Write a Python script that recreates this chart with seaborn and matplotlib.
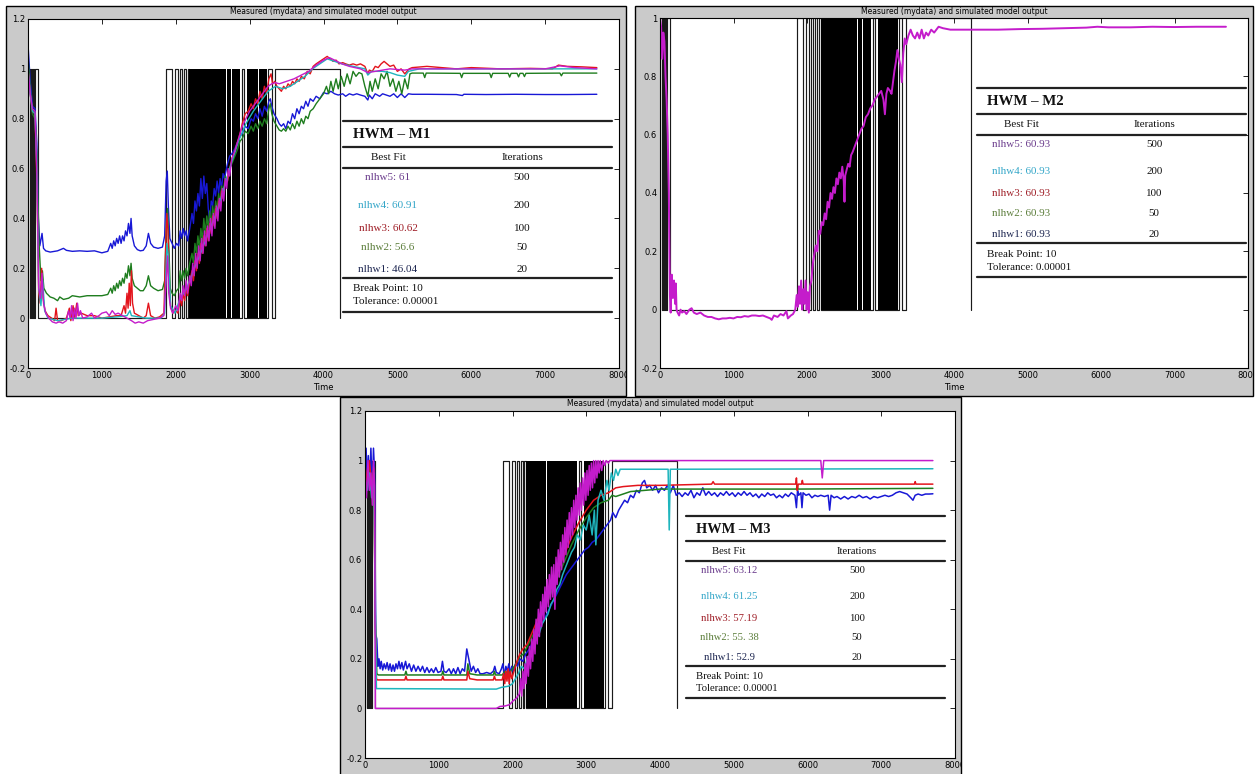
import numpy as np
import pandas as pd
import matplotlib
matplotlib.use("Agg")
import matplotlib.pyplot as plt
import seaborn as sns
from matplotlib.lines import Line2D
from matplotlib.patches import Rectangle
from matplotlib.transforms import Bbox, TransformedBbox

# ---------------------------------------------------------------- data
# measured output: switches between 0 and 1 (intervals where it is 1)
meas_on_start = [0, 40, 70, 100, 1868, 1990, 2057, 2111, 2160, 2900, 3253, 3344]
meas_on_end = [22, 55, 85, 138, 1950, 2030, 2084, 2140, 2185, 2925, 3299, 4230]
# stretches where the measured signal toggles faster than the plot resolves
meas_band_start = [2185, 2238, 2374, 2464, 2577, 2689, 2757, 2821, 2964, 3051, 3121, 3171, 3211]
meas_band_end = [2234, 2370, 2460, 2573, 2685, 2753, 2817, 2870, 3047, 3117, 3167, 3207, 3235]

x_ticks = [0, 1000, 2000, 3000, 4000, 5000, 6000, 7000, 8000]
y_ticks_a = [-0.2, 0, 0.2, 0.4, 0.6, 0.8, 1, 1.2]
y_ticks_b = [-0.2, 0, 0.2, 0.4, 0.6, 0.8, 1]

model_names = ["nlhw5", "nlhw4", "nlhw3", "nlhw2", "nlhw1"]
iterations = [500, 200, 100, 50, 20]
m1_fit = ["61", "60.91", "60.62", "56.6", "46.04"]
m2_fit = ["60.93", "60.93", "60.93", "60.93", "60.93"]
m3_fit = ["63.12", "61.25", "57.19", "55. 38", "52.9"]
break_point = 10
tolerance = "0.00001"

# HWM - M1 simulated outputs (time, value)
m1_nlhw1 = [(0,1.10),(30,0.95),(60,0.85),(95,0.84),(120,0.70),(140,0.40),(160,0.29),(190,0.34),(210,0.28),
    (240,0.27),(300,0.265),(400,0.27),(480,0.28),(520,0.272),(600,0.268),(700,0.27),(800,0.268),(900,0.27),
    (1000,0.262),(1080,0.268),(1120,0.30),(1140,0.28),(1160,0.31),(1180,0.29),(1200,0.32),(1220,0.30),
    (1240,0.33),(1260,0.30),(1280,0.33),(1300,0.31),(1320,0.35),(1340,0.33),(1360,0.38),(1380,0.34),
    (1395,0.40),(1410,0.33),(1440,0.29),(1480,0.275),(1520,0.27),(1560,0.272),(1600,0.29),(1630,0.34),
    (1660,0.30),(1700,0.285),(1760,0.28),(1820,0.285),(1850,0.33),(1870,0.55),(1885,0.59),(1900,0.45),
    (1920,0.32),(1950,0.30),(1980,0.28),(2010,0.30),(2040,0.29),(2060,0.35),(2080,0.32),(2100,0.36),
    (2120,0.33),(2140,0.35),(2160,0.31),(2190,0.36),(2220,0.42),(2240,0.38),(2260,0.47),(2280,0.43),
    (2300,0.50),(2320,0.45),(2340,0.56),(2360,0.48),(2380,0.57),(2400,0.50),(2420,0.54),(2440,0.44),
    (2460,0.39),(2480,0.47),(2500,0.45),(2520,0.52),(2540,0.49),(2560,0.55),(2580,0.50),(2600,0.56),
    (2620,0.52),(2640,0.58),(2660,0.56),(2700,0.62),(2730,0.65),(2760,0.66),(2800,0.68),(2840,0.71),
    (2870,0.73),(2900,0.74),(2940,0.77),(2980,0.76),(3020,0.80),(3050,0.79),(3080,0.82),(3110,0.80),
    (3140,0.84),(3170,0.81),(3200,0.85),(3230,0.83),(3260,0.87),(3280,0.88),(3300,0.85),(3330,0.82),
    (3370,0.80),(3400,0.78),(3430,0.77),(3460,0.78),(3490,0.76),(3520,0.79),(3550,0.78),(3580,0.82),
    (3610,0.80),(3640,0.84),(3670,0.82),(3700,0.85),(3730,0.84),(3760,0.87),(3790,0.85),(3820,0.88),
    (3860,0.87),(3900,0.89),(3950,0.88),(4000,0.905),(4050,0.90),(4100,0.91),(4150,0.90),(4200,0.895),
    (4260,0.90),(4300,0.89),(4350,0.90),(4400,0.895),(4450,0.90),(4500,0.895),(4560,0.89),(4600,0.875),
    (4620,0.895),(4660,0.88),(4700,0.90),(4760,0.89),(4800,0.90),(4850,0.895),(4900,0.89),(4950,0.90),
    (5000,0.885),(5050,0.90),(5100,0.885),(5150,0.90),(5200,0.898),(5400,0.898),(5800,0.897),(5880,0.893),
    (5900,0.898),(6200,0.897),(6600,0.898),(7000,0.897),(7300,0.897),(7700,0.898)]
m1_nlhw2 = [(0,1.05),(30,0.92),(60,0.82),(95,0.80),(120,0.65),(150,0.30),(175,0.15),(195,0.19),(215,0.12),
    (250,0.10),(300,0.085),(350,0.08),(400,0.07),(430,0.085),(480,0.075),(550,0.08),(600,0.09),(700,0.085),
    (800,0.09),(900,0.09),(1000,0.09),(1080,0.095),(1120,0.12),(1140,0.10),(1160,0.13),(1180,0.11),
    (1200,0.14),(1220,0.12),(1240,0.15),(1260,0.13),(1280,0.16),(1300,0.14),(1320,0.18),(1340,0.16),
    (1360,0.21),(1380,0.17),(1395,0.22),(1410,0.16),(1440,0.13),(1480,0.12),(1520,0.11),(1560,0.11),
    (1600,0.13),(1630,0.17),(1660,0.13),(1700,0.12),(1760,0.11),(1820,0.115),(1850,0.15),(1875,0.40),
    (1890,0.44),(1905,0.30),(1925,0.12),(1950,0.10),(1980,0.09),(2010,0.11),(2040,0.12),(2060,0.19),
    (2080,0.15),(2100,0.19),(2120,0.16),(2140,0.20),(2160,0.17),(2190,0.22),(2220,0.26),(2240,0.22),
    (2260,0.30),(2280,0.26),(2300,0.33),(2320,0.28),(2340,0.36),(2360,0.31),(2380,0.40),(2400,0.34),
    (2420,0.41),(2440,0.36),(2460,0.43),(2480,0.37),(2500,0.45),(2520,0.40),(2540,0.47),(2560,0.43),
    (2580,0.50),(2600,0.46),(2620,0.53),(2640,0.50),(2670,0.57),(2700,0.55),(2730,0.60),(2760,0.62),
    (2800,0.65),(2840,0.68),(2870,0.71),(2900,0.72),(2940,0.75),(2980,0.74),(3020,0.77),(3050,0.75),
    (3080,0.78),(3110,0.76),(3140,0.79),(3170,0.77),(3200,0.80),(3230,0.78),(3260,0.84),(3280,0.86),
    (3300,0.82),(3330,0.79),(3370,0.77),(3400,0.755),(3430,0.75),(3460,0.76),(3490,0.75),(3520,0.77),
    (3550,0.755),(3580,0.78),(3610,0.76),(3640,0.79),(3670,0.77),(3700,0.80),(3730,0.78),(3760,0.81),
    (3790,0.80),(3820,0.83),(3860,0.84),(3900,0.86),(3950,0.88),(4000,0.90),(4040,0.93),(4070,0.90),
    (4100,0.95),(4130,0.91),(4170,0.96),(4200,0.92),(4240,0.97),(4280,0.93),(4320,0.98),(4360,0.94),
    (4400,0.99),(4440,0.97),(4480,0.985),(4520,0.98),(4560,0.93),(4600,0.89),(4630,0.95),(4660,0.91),
    (4700,0.96),(4740,0.92),(4780,0.98),(4820,0.96),(4860,0.99),(4900,0.93),(4940,0.96),(4980,0.91),
    (5020,0.95),(5060,0.90),(5100,0.96),(5140,0.92),(5170,0.98),(5200,0.983),(5350,0.983),(5370,0.965),
    (5390,0.983),(5850,0.982),(5870,0.965),(5890,0.982),(6250,0.982),(6270,0.965),(6290,0.982),
    (6500,0.982),(6520,0.967),(6540,0.982),(6620,0.982),(6640,0.968),(6660,0.982),(6700,0.982),
    (6720,0.969),(6740,0.982),(7200,0.983),(7220,0.972),(7240,0.983),(7700,0.983)]
m1_nlhw3 = [(0,1.0),(30,0.90),(60,0.83),(95,0.82),(120,0.55),(145,0.10),(165,0.06),(185,0.20),(205,0.08),
    (230,0.03),(270,0.01),(320,0.0),(360,-0.01),(380,0.04),(400,-0.01),(450,-0.01),(520,0.0),(560,0.04),
    (580,-0.01),(610,0.05),(630,0.0),(660,0.06),(680,0.01),(720,0.02),(800,0.01),(900,0.01),(1000,0.0),
    (1100,0.005),(1200,0.01),(1260,0.01),(1300,0.05),(1320,0.02),(1340,0.10),(1355,0.04),(1370,0.14),
    (1385,0.05),(1400,0.19),(1415,0.06),(1440,0.02),(1500,0.01),(1560,0.0),(1600,0.01),(1630,0.06),
    (1660,0.01),(1720,0.0),(1780,0.005),(1840,0.02),(1865,0.30),(1880,0.42),(1895,0.35),(1910,0.15),
    (1930,0.05),(1960,0.02),(2000,0.03),(2030,0.02),(2060,0.08),(2080,0.05),(2100,0.10),(2120,0.07),
    (2140,0.12),(2160,0.09),(2190,0.15),(2220,0.19),(2240,0.15),(2260,0.23),(2280,0.19),(2300,0.26),
    (2320,0.22),(2340,0.30),(2360,0.26),(2380,0.33),(2400,0.29),(2420,0.36),(2440,0.31),(2460,0.38),
    (2480,0.34),(2500,0.41),(2520,0.37),(2540,0.44),(2560,0.40),(2580,0.47),(2600,0.44),(2620,0.51),
    (2640,0.48),(2670,0.55),(2700,0.55),(2730,0.60),(2760,0.64),(2800,0.67),(2840,0.71),(2870,0.74),
    (2900,0.78),(2940,0.82),(2980,0.83),(3020,0.86),(3050,0.84),(3080,0.88),(3110,0.86),(3140,0.91),
    (3170,0.88),(3200,0.93),(3230,0.90),(3260,0.96),(3290,0.98),(3310,0.94),(3340,0.95),(3370,0.93),
    (3400,0.92),(3430,0.91),(3460,0.93),(3490,0.92),(3520,0.94),(3550,0.93),(3580,0.95),(3610,0.94),
    (3640,0.96),(3670,0.95),(3700,0.97),(3740,0.96),(3780,0.99),(3820,0.98),(3860,1.01),(3900,1.02),
    (3950,1.03),(4000,1.04),(4050,1.05),(4090,1.04),(4130,1.03),(4170,1.035),(4210,1.02),(4260,1.025),
    (4300,1.02),(4350,1.015),(4400,1.02),(4450,1.015),(4500,1.02),(4560,1.01),(4600,0.98),(4620,0.995),
    (4660,0.99),(4700,1.01),(4740,1.005),(4780,1.02),(4820,1.03),(4860,1.02),(4900,1.01),(4950,1.015),
    (5000,0.99),(5050,1.0),(5100,0.98),(5130,0.99),(5160,1.0),(5200,1.005),(5400,1.01),(5600,1.005),
    (5800,1.0),(6000,1.005),(6400,1.0),(6800,1.002),(7100,1.0),(7180,1.015),(7300,1.01),(7500,1.008),
    (7700,1.005)]
m1_nlhw4 = [(0,1.0),(30,0.9),(60,0.83),(95,0.82),(120,0.6),(145,0.12),(175,0.05),(200,0.15),(225,0.03),
    (270,0.0),(400,-0.01),(600,0.0),(800,0.0),(1000,0.0),(1200,0.005),(1340,0.01),(1380,0.03),(1400,0.01),
    (1600,0.0),(1800,0.0),(1850,0.02),(1880,0.30),(1900,0.25),(1930,0.05),(1990,0.02),(2060,0.08),
    (2150,0.12),(2250,0.2),(2350,0.27),(2450,0.35),(2550,0.42),(2650,0.52),(2750,0.62),(2850,0.71),
    (2950,0.78),(3050,0.83),(3150,0.87),(3250,0.91),(3350,0.93),(3450,0.92),(3550,0.93),(3650,0.95),
    (3750,0.97),(3850,1.0),(3950,1.02),(4050,1.04),(4150,1.03),(4250,1.02),(4400,1.01),(4560,1.0),
    (4600,0.975),(4650,0.99),(4800,0.99),(4900,0.985),(5000,0.975),(5100,0.97),(5150,0.99),(5300,1.0),
    (5600,1.0),(7700,1.0)]
m1_nlhw5 = [(0,1.0),(30,0.9),(60,0.84),(95,0.83),(120,0.58),(145,0.12),(170,0.08),(190,0.18),(210,0.06),
    (240,0.02),(280,0.0),(330,-0.015),(380,-0.02),(420,-0.015),(470,-0.02),(520,-0.01),(550,0.03),
    (570,0.0),(590,0.05),(610,-0.01),(630,0.04),(650,0.0),(670,0.06),(690,0.01),(710,0.03),(740,0.0),
    (800,0.005),(860,0.02),(900,0.0),(960,0.01),(1000,0.02),(1060,0.025),(1100,0.01),(1140,0.03),
    (1180,0.015),(1220,0.02),(1280,0.01),(1340,0.0),(1400,-0.01),(1450,-0.02),(1500,-0.015),(1560,-0.02),
    (1620,-0.01),(1700,-0.005),(1780,0.0),(1840,0.01),(1870,0.15),(1890,0.25),(1905,0.10),(1930,0.04),
    (1960,0.02),(2000,0.05),(2030,0.03),(2060,0.10),(2080,0.07),(2100,0.13),(2120,0.09),(2140,0.15),
    (2160,0.10),(2190,0.17),(2210,0.13),(2230,0.22),(2250,0.17),(2270,0.26),(2290,0.20),(2310,0.29),
    (2330,0.23),(2350,0.32),(2370,0.26),(2390,0.35),(2410,0.29),(2430,0.37),(2450,0.31),(2470,0.40),
    (2490,0.33),(2510,0.42),(2530,0.36),(2550,0.45),(2570,0.39),(2590,0.48),(2610,0.43),(2630,0.52),
    (2650,0.47),(2670,0.56),(2690,0.52),(2710,0.60),(2730,0.57),(2760,0.64),(2800,0.67),(2840,0.71),
    (2870,0.74),(2900,0.77),(2950,0.80),(3000,0.83),(3050,0.85),(3100,0.87),(3150,0.89),(3200,0.91),
    (3250,0.93),(3300,0.94),(3350,0.945),(3400,0.94),(3450,0.945),(3500,0.95),(3600,0.96),(3700,0.975),
    (3800,0.99),(3900,1.015),(4000,1.035),(4080,1.045),(4150,1.035),(4250,1.02),(4350,1.01),(4500,1.0),
    (4600,0.985),(4700,0.99),(4900,1.0),(5100,0.995),(5200,1.0),(5500,1.0),(6000,1.0),(6500,1.0),
    (7000,1.0),(7200,1.012),(7400,1.005),(7700,1.0)]

# HWM - M2: all five models give the same output
m2_nlhw5 = [(0,1.0),(15,0.97),(30,0.86),(45,0.95),(60,0.92),(75,0.80),(90,0.72),(105,0.60),(120,0.40),
    (135,0.05),(145,-0.01),(160,0.12),(175,0.04),(190,0.10),(205,0.02),(215,0.09),(225,0.0),(240,-0.01),
    (260,-0.02),(280,0.0),(300,-0.01),(330,-0.005),(360,-0.015),(400,0.0),(430,0.005),(460,-0.01),
    (500,-0.015),(550,-0.01),(600,-0.02),(650,-0.025),(700,-0.025),(750,-0.03),(800,-0.033),(850,-0.03),
    (900,-0.03),(950,-0.028),(1000,-0.03),(1050,-0.025),(1100,-0.026),(1150,-0.022),(1200,-0.024),
    (1250,-0.02),(1300,-0.02),(1350,-0.022),(1400,-0.02),(1450,-0.025),(1500,-0.03),(1520,-0.035),
    (1550,-0.02),(1600,-0.025),(1640,-0.015),(1680,-0.02),(1720,-0.005),(1740,-0.03),(1780,-0.02),
    (1810,-0.015),(1840,0.0),(1860,0.05),(1875,0.01),(1890,0.08),(1905,0.02),(1920,0.10),(1935,0.0),
    (1950,0.07),(1965,0.02),(1980,0.10),(1995,0.0),(2010,0.06),(2025,-0.01),(2040,0.08),(2060,0.10),
    (2080,0.16),(2100,0.19),(2120,0.22),(2140,0.20),(2160,0.27),(2180,0.26),(2200,0.30),(2220,0.29),
    (2240,0.33),(2260,0.31),(2280,0.37),(2300,0.35),(2320,0.40),(2340,0.38),(2360,0.42),(2380,0.40),
    (2400,0.45),(2420,0.43),(2440,0.47),(2460,0.45),(2480,0.49),(2500,0.44),(2510,0.37),(2520,0.46),
    (2540,0.48),(2560,0.50),(2580,0.49),(2600,0.53),(2620,0.54),(2650,0.56),(2680,0.58),(2710,0.60),
    (2740,0.62),(2770,0.63),(2800,0.66),(2830,0.67),(2860,0.69),(2890,0.70),(2920,0.72),(2950,0.73),
    (2980,0.74),(3010,0.75),(3040,0.72),(3060,0.67),(3080,0.74),(3100,0.76),(3130,0.75),(3150,0.74),
    (3170,0.78),(3190,0.82),(3210,0.85),(3230,0.89),(3250,0.86),(3270,0.84),(3290,0.78),(3310,0.88),
    (3330,0.93),(3350,0.91),(3380,0.94),(3410,0.96),(3440,0.94),(3470,0.93),(3500,0.95),(3530,0.93),
    (3560,0.96),(3590,0.93),(3620,0.95),(3650,0.94),(3690,0.96),(3730,0.95),(3790,0.97),(3850,0.965),
    (3950,0.96),(4100,0.96),(4300,0.96),(4600,0.96),(4900,0.962),(5200,0.963),(5500,0.965),(5800,0.967),
    (5950,0.97),(6100,0.968),(6400,0.968),(6700,0.97),(7000,0.969),(7300,0.97),(7700,0.97)]

# HWM - M3 simulated outputs
m3_nlhw1 = [(0,0.85),(15,1.05),(30,0.90),(45,1.02),(60,0.88),(80,1.05),(100,0.86),(115,1.05),(130,0.95),
    (145,0.30),(160,0.28),(175,0.17),(190,0.20),(205,0.16),(220,0.19),(240,0.155),(260,0.18),(280,0.16),
    (300,0.185),(320,0.155),(340,0.18),(360,0.15),(380,0.175),(400,0.15),(420,0.18),(440,0.16),(460,0.19),
    (480,0.16),(500,0.185),(520,0.155),(550,0.19),(570,0.16),(600,0.18),(630,0.15),(660,0.175),(690,0.15),
    (720,0.17),(750,0.15),(780,0.17),(810,0.145),(840,0.165),(870,0.145),(900,0.16),(930,0.145),
    (960,0.165),(990,0.145),(1030,0.15),(1050,0.19),(1070,0.15),(1100,0.145),(1140,0.16),(1170,0.14),
    (1200,0.16),(1230,0.14),(1260,0.165),(1290,0.14),(1320,0.16),(1350,0.15),(1380,0.24),(1400,0.21),
    (1420,0.18),(1440,0.15),(1470,0.17),(1500,0.145),(1530,0.16),(1560,0.14),(1600,0.14),(1650,0.145),
    (1700,0.14),(1740,0.15),(1760,0.17),(1780,0.145),(1820,0.14),(1850,0.16),(1870,0.18),(1890,0.13),
    (1910,0.17),(1930,0.15),(1950,0.18),(1970,0.14),(1990,0.17),(2010,0.15),(2040,0.18),(2070,0.17),
    (2100,0.20),(2140,0.19),(2180,0.22),(2230,0.24),(2280,0.27),(2330,0.30),(2380,0.33),(2430,0.36),
    (2480,0.39),(2530,0.42),(2580,0.45),(2630,0.48),(2680,0.51),(2730,0.54),(2780,0.56),(2830,0.58),
    (2880,0.60),(2930,0.62),(2980,0.64),(3030,0.65),(3080,0.67),(3130,0.68),(3180,0.70),(3230,0.72),
    (3280,0.74),(3330,0.76),(3360,0.79),(3400,0.77),(3440,0.80),(3480,0.82),(3520,0.84),(3560,0.83),
    (3600,0.86),(3640,0.85),(3680,0.88),(3720,0.87),(3760,0.91),(3790,0.92),(3820,0.89),(3860,0.90),
    (3900,0.88),(3940,0.90),(3980,0.87),(4020,0.89),(4060,0.88),(4100,0.90),(4140,0.87),(4180,0.90),
    (4220,0.86),(4260,0.87),(4300,0.855),(4340,0.87),(4380,0.86),(4420,0.88),(4460,0.85),(4500,0.87),
    (4540,0.86),(4580,0.89),(4620,0.86),(4660,0.875),(4700,0.86),(4740,0.87),(4780,0.855),(4820,0.87),
    (4860,0.86),(4900,0.875),(4940,0.86),(4980,0.87),(5020,0.855),(5060,0.87),(5100,0.86),(5140,0.875),
    (5180,0.86),(5220,0.87),(5260,0.855),(5300,0.865),(5340,0.85),(5380,0.865),(5420,0.855),(5460,0.87),
    (5500,0.86),(5540,0.865),(5580,0.85),(5620,0.86),(5660,0.85),(5700,0.865),(5740,0.855),(5780,0.87),
    (5830,0.86),(5850,0.81),(5865,0.88),(5880,0.86),(5910,0.87),(5925,0.81),(5940,0.87),(5980,0.86),
    (6020,0.865),(6060,0.85),(6100,0.86),(6140,0.855),(6180,0.86),(6230,0.855),(6280,0.86),(6300,0.80),
    (6320,0.86),(6360,0.85),(6400,0.855),(6450,0.845),(6500,0.855),(6550,0.845),(6600,0.855),(6650,0.85),
    (6700,0.86),(6750,0.85),(6800,0.855),(6850,0.845),(6900,0.855),(6950,0.85),(7000,0.855),(7050,0.86),
    (7100,0.855),(7150,0.86),(7200,0.87),(7250,0.875),(7300,0.87),(7350,0.865),(7400,0.85),(7430,0.84),
    (7460,0.86),(7500,0.865),(7550,0.86),(7600,0.865),(7650,0.865),(7700,0.866)]
m3_nlhw2 = [(0,0.95),(30,0.9),(60,0.98),(90,0.88),(120,0.96),(140,0.35),(160,0.14),(180,0.135),
    (540,0.135),(555,0.15),(570,0.135),(1040,0.135),(1055,0.15),(1070,0.135),(1380,0.135),(1395,0.18),
    (1420,0.14),(1520,0.135),(1740,0.135),(1755,0.15),(1770,0.135),(1860,0.135),(1900,0.15),(1950,0.14),
    (2000,0.16),(2050,0.18),(2100,0.21),(2150,0.22),(2200,0.25),(2300,0.31),(2400,0.38),(2500,0.45),
    (2600,0.52),(2700,0.59),(2800,0.66),(2900,0.72),(3000,0.77),(3100,0.81),(3200,0.83),(3300,0.84),
    (3350,0.86),(3400,0.855),(3500,0.865),(3600,0.875),(3800,0.88),(4000,0.885),(5850,0.885),(5860,0.90),
    (5870,0.885),(7700,0.888)]
m3_nlhw3 = [(0,0.98),(30,0.92),(60,1.0),(90,0.90),(120,0.97),(140,0.35),(155,0.12),(170,0.115),
    (540,0.115),(555,0.13),(570,0.115),(1040,0.115),(1055,0.13),(1070,0.115),(1380,0.115),(1395,0.15),
    (1420,0.12),(1520,0.115),(1740,0.115),(1755,0.13),(1770,0.115),(1860,0.115),(1880,0.14),(1895,0.10),
    (1910,0.15),(1925,0.11),(1940,0.16),(1955,0.10),(1970,0.15),(1990,0.12),(2010,0.14),(2030,0.16),
    (2060,0.19),(2100,0.22),(2140,0.24),(2200,0.26),(2300,0.33),(2400,0.40),(2500,0.47),(2600,0.55),
    (2700,0.62),(2800,0.69),(2900,0.75),(3000,0.80),(3100,0.84),(3200,0.86),(3300,0.87),(3350,0.88),
    (3400,0.89),(3500,0.895),(3700,0.90),(4000,0.90),(4700,0.905),(4720,0.915),(4740,0.905),(5840,0.905),
    (5850,0.93),(5860,0.88),(5875,0.905),(5920,0.905),(5930,0.92),(5940,0.905),(7450,0.905),(7460,0.915),
    (7470,0.905),(7700,0.905)]
m3_nlhw4 = [(0,0.92),(30,0.88),(60,0.95),(90,0.85),(120,0.95),(140,0.40),(155,0.08),(1780,0.078),
    (1850,0.085),(1950,0.09),(2000,0.10),(2040,0.12),(2080,0.14),(2120,0.17),(2160,0.16),(2200,0.2),
    (2240,0.22),(2280,0.25),(2320,0.28),(2360,0.30),(2400,0.34),(2440,0.36),(2480,0.38),(2520,0.42),
    (2560,0.44),(2600,0.48),(2640,0.50),(2680,0.54),(2720,0.57),(2760,0.60),(2800,0.63),(2840,0.65),
    (2880,0.70),(2920,0.68),(2960,0.74),(3000,0.72),(3040,0.78),(3080,0.70),(3110,0.80),(3130,0.66),
    (3160,0.84),(3200,0.88),(3240,0.84),(3280,0.92),(3310,0.88),(3340,0.95),(3370,0.92),(3400,0.965),
    (3430,0.94),(3460,0.965),(4110,0.965),(4125,0.72),(4140,0.965),(7700,0.967)]
m3_nlhw5 = [(0,0.95),(20,0.85),(40,1.0),(60,0.88),(80,0.95),(100,0.82),(115,1.0),(130,0.90),(140,0.0),
    (1780,0.0),(1830,0.008),(1900,0.01),(1960,0.015),(2005,0.03),(2050,0.04),(2094,0.06),(2110,0.12),
    (2125,0.05),(2140,0.15),(2155,0.08),(2170,0.18),(2185,0.10),(2200,0.21),(2215,0.13),(2230,0.25),
    (2245,0.16),(2260,0.28),(2275,0.19),(2290,0.32),(2305,0.22),(2320,0.36),(2335,0.26),(2350,0.40),
    (2365,0.29),(2380,0.43),(2395,0.33),(2410,0.46),(2425,0.36),(2440,0.49),(2455,0.39),(2470,0.52),
    (2485,0.41),(2500,0.54),(2515,0.44),(2530,0.57),(2545,0.45),(2560,0.58),(2575,0.40),(2590,0.61),
    (2605,0.50),(2620,0.64),(2635,0.53),(2650,0.67),(2665,0.56),(2680,0.70),(2695,0.59),(2710,0.73),
    (2725,0.62),(2740,0.76),(2755,0.65),(2770,0.79),(2785,0.68),(2800,0.81),(2815,0.70),(2830,0.84),
    (2845,0.73),(2860,0.86),(2875,0.76),(2890,0.89),(2905,0.78),(2920,0.91),(2935,0.80),(2950,0.93),
    (2965,0.82),(2980,0.95),(2995,0.84),(3010,0.96),(3025,0.86),(3040,0.98),(3055,0.88),(3070,0.99),
    (3085,0.89),(3100,1.0),(3115,0.91),(3130,1.0),(3145,0.93),(3160,1.0),(3175,0.95),(3190,1.0),
    (3210,0.96),(3230,1.0),(3250,0.98),(3270,1.0),(3300,0.99),(3320,1.0),(3337,1.0),(6180,1.0),
    (6200,0.93),(6220,1.0),(7700,1.0)]

# ---------------------------------------------------------------- style
sns.set_theme(style="white")
plt.rcParams["font.family"] = ["DejaVu Sans"]

W, H = 1255, 774
fig = plt.figure(figsize=(W / 100, H / 100), dpi=100)
fig.patch.set_facecolor("white")

line_colors = {"nlhw1": "#1818d6", "nlhw2": "#1e7d1e", "nlhw3": "#e3141c",
               "nlhw4": "#1fb5bd", "nlhw5": "#c41ccb"}
label_colors = {"nlhw5": "#6a3b8c", "nlhw4": "#33a6c8", "nlhw3": "#9e1c25",
                "nlhw2": "#5b7d3a", "nlhw1": "#1c2550"}
frame_gray = "#cacaca"
serif = "Liberation Serif"


def fig_y(py):
    return 1 - py / H


def add_frame(box):
    x0, y0, x1, y1 = box
    rect = Rectangle((x0 / W, fig_y(y1)), (x1 - x0) / W, (y1 - y0) / H,
                     transform=fig.transFigure, facecolor=frame_gray,
                     edgecolor="black", linewidth=1.0, zorder=-5)
    fig.add_artist(rect)
    return TransformedBbox(Bbox.from_extents(x0 / W, fig_y(y1), x1 / W, fig_y(y0)),
                           fig.transFigure)


def make_axes(box, yticks, clip):
    x0, y0, x1, y1 = box
    ax = fig.add_axes([x0 / W, fig_y(y1), (x1 - x0) / W, (y1 - y0) / H])
    ax.set_facecolor("white")
    ax.set_xlim(0, 8000)
    ax.set_ylim(yticks[0], yticks[-1])
    ax.set_xticks(x_ticks)
    ax.set_xticklabels([str(v) for v in x_ticks])
    ax.set_yticks(yticks)
    ax.set_yticklabels([f"{v:g}" for v in yticks])
    ax.tick_params(direction="in", length=3.5, width=0.6, top=True, right=True,
                   labelsize=6, pad=2, colors="black")
    for sp in ax.spines.values():
        sp.set_color("black")
        sp.set_linewidth(0.8)
    for lbl in ax.get_xticklabels() + ax.get_yticklabels():
        lbl.set_clip_box(clip)
        lbl.set_clip_on(True)
    return ax


def draw_measured(ax):
    xs, ys = [], []
    for a, b in zip(meas_on_start, meas_on_end):
        xs += [a, a, b, b]
        ys += [0, 1, 1, 0]
    df = pd.DataFrame({"Time": xs, "y": ys})
    sns.lineplot(data=df, x="Time", y="y", ax=ax, sort=False, estimator=None,
                 color="#1a1a1a", linewidth=0.85, zorder=1)
    for a, b in zip(meas_band_start, meas_band_end):
        ax.fill_between([a, b], [0, 0], [1, 1], color="black", linewidth=0, zorder=1)


def draw_series(ax, series, lw=0.9, colors=None):
    for name, pts in series:
        df = pd.DataFrame(pts, columns=["Time", "y"])
        c = (colors or line_colors)[name]
        sns.lineplot(data=df, x="Time", y="y", ax=ax, sort=False, estimator=None,
                     color=c, linewidth=lw, zorder=2)
    ax.set_xlabel("")
    ax.set_ylabel("")


def draw_table(top, left, right, s, title, fits):
    def ty(off):
        return fig_y(top + off * s)

    for off in (0, 26, 47, 157, 191):
        fig.add_artist(Line2D([left / W, right / W], [ty(off), ty(off)],
                              transform=fig.transFigure, color="#222222",
                              linewidth=1.6, zorder=5))
    fs = 8.0 * s
    fig.text((left + 10 * s) / W, ty(14), title, family=serif, weight="bold",
             fontsize=10.8 * s, color="#111111", va="center", ha="left")
    fig.text((left + 45 * s) / W, ty(37), "Best Fit", family=serif, fontsize=fs,
             color="#111111", va="center", ha="center")
    fig.text((left + 179 * s) / W, ty(37), "Iterations", family=serif, fontsize=fs,
             color="#111111", va="center", ha="center")
    row_offsets = [57, 84, 107, 127, 148]
    for off, name, fit, it in zip(row_offsets, model_names, fits, iterations):
        fig.text((left + 45 * s) / W, ty(off), f"{name}: {fit}", family=serif,
                 fontsize=fs, color=label_colors[name], va="center", ha="center")
        fig.text((left + 179 * s) / W, ty(off), str(it), family=serif, fontsize=fs,
                 color="#111111", va="center", ha="center")
    fig.text((left + 10 * s) / W, ty(168), f"Break Point: {break_point}", family=serif,
             fontsize=fs, color="#111111", va="center", ha="left")
    fig.text((left + 10 * s) / W, ty(181), f"Tolerance: {tolerance}", family=serif,
             fontsize=fs, color="#111111", va="center", ha="left")


title_txt = "Measured (mydata) and simulated model output"

panels = [
    dict(frame=(6, 6, 626, 396), axes=(28, 19, 619, 368), yticks=y_ticks_a,
         series=[("nlhw1", m1_nlhw1), ("nlhw2", m1_nlhw2), ("nlhw3", m1_nlhw3),
                 ("nlhw4", m1_nlhw4), ("nlhw5", m1_nlhw5)],
         lw=1.0, table=(121, 343, 612, 1.0), name="HWM – M1", fits=m1_fit, xlabel=True),
    dict(frame=(635, 6, 1253, 396), axes=(660, 18, 1248, 368), yticks=y_ticks_b,
         series=[("nlhw5", m2_nlhw5)],
         lw=1.4, table=(88, 977, 1246, 0.99), name="HWM – M2", fits=m2_fit, xlabel=True),
    dict(frame=(340, 397, 961, 790), axes=(365, 411, 955, 758), yticks=y_ticks_a,
         series=[("nlhw1", m3_nlhw1), ("nlhw2", m3_nlhw2), ("nlhw3", m3_nlhw3),
                 ("nlhw4", m3_nlhw4), ("nlhw5", m3_nlhw5)],
         lw=1.1, table=(516, 686, 945, 0.955), name="HWM – M3", fits=m3_fit, xlabel=False),
]

for p in panels:
    clip = add_frame(p["frame"])
    ax = make_axes(p["axes"], p["yticks"], clip)
    draw_measured(ax)
    draw_series(ax, p["series"], lw=p["lw"])
    x0, y0, x1, y1 = p["axes"]
    cx = (x0 + x1) / 2 / W
    fig.text(cx, fig_y(y0 - 7), title_txt, fontsize=5.5, ha="center", va="center",
             color="black")
    if p["xlabel"]:
        fig.text(cx, fig_y(y1 + 19), "Time", fontsize=6, ha="center", va="center",
                 color="black")
    top, left, right, s = p["table"]
    draw_table(top, left, right, s, p["name"], p["fits"])

fig.savefig("out.png", dpi=100, facecolor="white")
